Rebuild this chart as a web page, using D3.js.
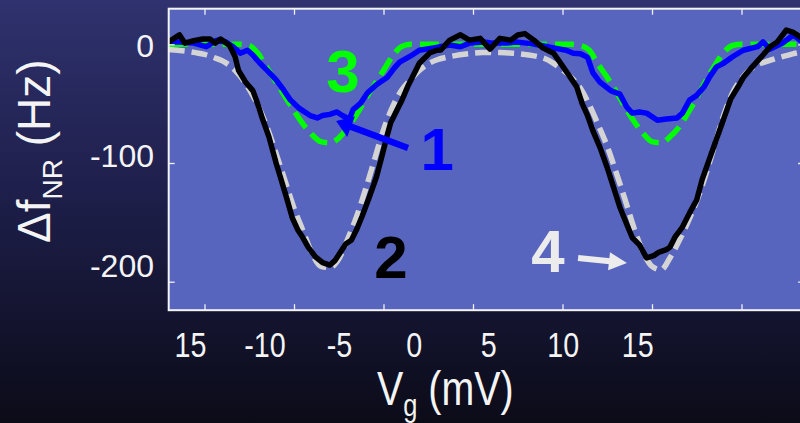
<!DOCTYPE html>
<html>
<head>
<meta charset="utf-8">
<script src="https://cdn.jsdelivr.net/npm/d3@7"></script>
<style>
  html, body { margin: 0; padding: 0; overflow: hidden; background: #15163a; }
  svg { display: block; }
</style>
</head>
<body>
<svg id="chart" width="800" height="423"></svg>
<script>
// ---- data -------------------------------------------------------------
// tick values and their printed labels
const vgTicks = [-15, -10, -5, 0, 5, 10, 15];
const vgTickLabels = ["15", "-10", "-5", "0", "5", "10", "15"];
const dfTicks = [0, -100, -200];
const dfTickLabels = ["0", "-100", "-200"];

// curve 1 (blue, measured): [Vg (mV), Δf (Hz)]
const curve1 = [
  [-17.0, 2], [-16.4, 2], [-15.6, 1], [-14.9, -2], [-14.3, 3.5], [-13.8, 2], [-13.4, -2],
  [-13.0, -7.5], [-12.6, -5], [-12.3, -9], [-11.9, -16], [-11.5, -22], [-11.0, -30],
  [-10.6, -38], [-10.2, -47], [-9.7, -54], [-9.1, -60], [-8.7, -62], [-8.4, -60],
  [-8.0, -59], [-7.6, -57], [-7.3, -60], [-6.9, -63], [-6.7, -55], [-6.3, -50],
  [-5.9, -41], [-5.4, -34], [-4.8, -28], [-4.4, -20], [-4.1, -15], [-3.5, -10],
  [-3.0, -5], [-2.2, -3], [-1.3, -0.6], [-0.7, -2], [-0.2, 1], [0.6, 2], [1.1, 1],
  [1.9, 1], [2.4, 2], [3.0, 1], [3.7, -0.6], [4.5, -3], [5.2, -5], [5.6, -7.5],
  [6.0, -8], [6.4, -11], [6.7, -24], [7.1, -32], [7.7, -39], [8.2, -42], [8.6, -53],
  [8.9, -58], [9.3, -57], [9.7, -58], [10.3, -64], [10.8, -63], [11.4, -62],
  [11.7, -58], [12.1, -47], [12.5, -43], [12.9, -36], [13.2, -28], [13.6, -19],
  [14.0, -16], [14.5, -10.5], [15.1, -5], [15.9, -2], [16.2, 2], [16.6, -4],
  [17.3, 1], [17.9, 8], [18.3, 3], [18.5, 3]
];

// curve 2 (black, measured): [Vg (mV), Δf (Hz)]
const curve2 = [
  [-17.0, 2], [-16.7, 5], [-16.4, 8], [-16.1, 1], [-15.6, 3], [-15.1, 4.5], [-14.7, 4.5],
  [-14.4, 1], [-14.1, 4.5], [-13.6, -1], [-13.3, -10], [-13.1, -22], [-12.7, -32],
  [-12.3, -39], [-12.1, -47], [-11.8, -61], [-11.4, -78], [-11.0, -100], [-10.7, -115],
  [-10.4, -130], [-10.1, -146], [-9.8, -156], [-9.5, -163], [-9.2, -171], [-8.8, -179],
  [-8.4, -184], [-8.0, -186], [-7.7, -182], [-7.4, -175], [-7.1, -168], [-6.8, -165],
  [-6.5, -156], [-6.2, -145], [-5.8, -129], [-5.4, -112], [-5.1, -95], [-4.8, -77],
  [-4.6, -66], [-4.3, -57], [-4.0, -48], [-3.6, -34], [-3.2, -22], [-3.0, -16],
  [-2.6, -10], [-2.4, -7], [-2.0, -5], [-1.8, -4.8], [-1.3, 3.5], [-0.7, 8],
  [-0.2, 3.5], [0.4, 5], [0.95, -4], [1.5, 5], [2.1, 3.5], [2.5, 7.8], [2.9, 9],
  [3.4, 3.5], [3.9, -3], [4.5, -7.5], [4.9, -16], [5.4, -27], [5.8, -36], [6.1, -50],
  [6.4, -60], [6.7, -73], [7.1, -87], [7.5, -104], [7.8, -118], [8.2, -137],
  [8.6, -152], [8.9, -163], [9.3, -169], [9.7, -180], [10.1, -178], [10.4, -175],
  [10.8, -173], [11.0, -171], [11.3, -162], [11.7, -154], [12.1, -142], [12.5, -131],
  [12.8, -114], [13.2, -97], [13.6, -80], [14.0, -63], [14.4, -46], [14.8, -36],
  [15.1, -28], [15.6, -19], [16.2, -9], [16.6, -2], [17.0, 2], [17.5, 12],
  [17.9, 10], [18.3, 6], [18.5, 4]
];

// fits 3 (green) and 4 (grey) share one Vg grid
const fitVg = [
  -17, -16.5, -16, -15.5, -15, -14.5, -14, -13.5, -13, -12.5, -12, -11.5, -11, -10.5,
  -10, -9.5, -9, -8.5, -8, -7.5, -7, -6.5, -6, -5.5, -5, -4.5, -4, -3.5, -3, -2.5,
  -2, -1.5, -1, -0.5, 0, 0.5, 1, 1.5, 2, 2.5, 3, 3.5, 4, 4.5, 5, 5.5, 6, 6.5, 7, 7.5,
  8, 8.5, 9, 9.5, 10, 10.5, 11, 11.5, 12, 12.5, 13, 13.5, 14, 14.5, 15, 15.5, 16,
  16.5, 17, 17.5, 18, 18.5
];
const fit3 = [
  0, 0, 0, 0, 0, 0, 0, 0, 0, -1, -8, -20, -32, -44,
  -56, -67, -76, -82, -83, -79, -70, -59, -46, -34, -22, -10, -2, 0, 0, 0,
  0, 0, 0, 0, 0, 0, 0, 0, 0, 0, 0, 0, 0, 0, 0, 0, -1, -5, -17, -28,
  -40, -53, -65, -75, -82, -83, -78, -70, -58, -45, -31, -18, -7, -1, 0, 0, 0,
  0, 0, 0, 0, 0
];
const fit4 = [
  -4.3, -5, -5.8, -7, -8.5, -11, -14, -19, -27, -38, -52, -70, -92, -115,
  -138, -157, -176, -187, -188, -181, -164, -145, -122, -97, -72, -53, -39, -30, -22, -16.5,
  -13, -11, -9.5, -8.3, -7.5, -7, -6.8, -7, -7.3, -7.8, -8.8, -10, -12, -16, -21.5, -28, -37, -51, -68, -86,
  -108, -131, -155, -175, -187, -190, -180, -166, -150, -132, -110, -85, -60, -41, -29, -21, -16.5,
  -14, -11.5, -9.5, -7.5, -6
];

// annotation numerals and arrows, placed in data units
const numerals = [
  { text: "3", vg: -7.26, df: -40.5, color: "#00ff00" },
  { text: "1", vg: -2.0, df: -106, color: "#0000ff" },
  { text: "2", vg: -4.58, df: -197, color: "#000000" },
  { text: "4", vg: 4.19, df: -192, color: "#ececec" }
];
const arrows = [
  { from: [-3.63, -87.4], to: [-7.65, -64.7], color: "#0000ff", shaft: 6.5, headLen: 16, headHalf: 11 },
  { from: [5.87, -180], to: [8.6, -184.3], color: "#ececec", shaft: 6, headLen: 18, headHalf: 9 }
];

// ---- layout ------------------------------------------------------------
const svg = d3.select("#chart");
const W = 800, H = 423;

const x = d3.scaleLinear().domain([-17, 18.5]).range([168.7, 804.15]);
const y = d3.scaleLinear().domain([30, -224]).range([8.7, 310.2]);

// tick-label placement scales (labels sit slightly off their tick marks)
const xLab = d3.scaleLinear().domain([-15, 15]).range([190.4, 637.8]);
const yLab = d3.scaleLinear().domain([0, -200]).range([56.7, 276.7]);

const FONT = "'Liberation Sans', Arial, Helvetica, sans-serif";

// ---- background --------------------------------------------------------
const defs = svg.append("defs");
const grad = defs.append("linearGradient").attr("id", "bgGrad")
  .attr("x1", 0).attr("y1", 0).attr("x2", 0).attr("y2", 1);
grad.append("stop").attr("offset", 0).attr("stop-color", "#2f326e");
grad.append("stop").attr("offset", 0.45).attr("stop-color", "#1e1f4b");
grad.append("stop").attr("offset", 1).attr("stop-color", "#0b0b18");
svg.append("rect").attr("width", W).attr("height", H).attr("fill", "url(#bgGrad)");

const [x0, x1] = x.range();
const [y0, y1] = y.range();

defs.append("clipPath").attr("id", "plotClip")
  .append("rect").attr("x", x0).attr("y", y0).attr("width", x1 - x0).attr("height", y1 - y0);

svg.append("rect").attr("x", x0).attr("y", y0).attr("width", x1 - x0).attr("height", y1 - y0)
  .attr("fill", "#5865bf");

// ---- curves ------------------------------------------------------------
const plot = svg.append("g").attr("clip-path", "url(#plotClip)");

const smooth = d3.line().x(d => x(d[0])).y(d => y(d[1])).curve(d3.curveMonotoneX);
const jagged = d3.line().x(d => x(d[0])).y(d => y(d[1])).curve(d3.curveLinear);

plot.append("path").datum(fitVg.map((v, i) => [v, fit4[i]]))
  .attr("d", smooth).attr("fill", "none").attr("stroke", "#d4d4d4")
  .attr("stroke-width", 5.5).attr("stroke-dasharray", "16 7");

plot.append("path").datum(fitVg.map((v, i) => [v, fit3[i]]))
  .attr("d", smooth).attr("fill", "none").attr("stroke", "#00ff00")
  .attr("stroke-width", 5.5).attr("stroke-dasharray", "19 8");

plot.append("path").datum(curve1)
  .attr("d", jagged).attr("fill", "none").attr("stroke", "#0000ff")
  .attr("stroke-width", 5.5).attr("stroke-linejoin", "round").attr("stroke-linecap", "round");

plot.append("path").datum(curve2)
  .attr("d", jagged).attr("fill", "none").attr("stroke", "#000000")
  .attr("stroke-width", 5.5).attr("stroke-linejoin", "round").attr("stroke-linecap", "round");

// ---- frame and inward ticks -------------------------------------------
function styleAxis(g) {
  g.select(".domain").remove();
  g.selectAll(".tick line").attr("stroke", "#f2f2f2").attr("stroke-width", 1.3);
  g.selectAll(".tick text").remove();
}
svg.append("g").attr("transform", `translate(0,${y0})`)
  .call(d3.axisTop(x).tickValues(vgTicks).tickSize(-6).tickFormat("")).call(styleAxis);
svg.append("g").attr("transform", `translate(0,${y1})`)
  .call(d3.axisBottom(x).tickValues(vgTicks).tickSize(-6).tickFormat("")).call(styleAxis);
svg.append("g").attr("transform", `translate(${x0},0)`)
  .call(d3.axisLeft(y).tickValues(dfTicks).tickSize(-6).tickFormat("")).call(styleAxis);
svg.append("g").attr("transform", `translate(${x1},0)`)
  .call(d3.axisRight(y).tickValues(dfTicks).tickSize(-6).tickFormat("")).call(styleAxis);

svg.append("rect").attr("x", x0).attr("y", y0).attr("width", x1 - x0).attr("height", y1 - y0)
  .attr("fill", "none").attr("stroke", "#f4f4f4").attr("stroke-width", 2);

// ---- tick labels -------------------------------------------------------
svg.append("g").selectAll("g").data(vgTicks).join("g")
  .attr("transform", d => `translate(${xLab(d)},357) scale(0.82,1)`)
  .append("text")
  .attr("text-anchor", "middle").attr("fill", "#f4f4f4")
  .style("font-family", FONT).style("font-size", "35px")
  .text((d, i) => vgTickLabels[i]);

svg.append("g").selectAll("text").data(dfTicks).join("text")
  .attr("x", 154).attr("y", d => yLab(d))
  .attr("text-anchor", "end").attr("fill", "#f4f4f4")
  .style("font-family", FONT).style("font-size", "32px")
  .text((d, i) => dfTickLabels[i]);

// ---- axis titles -------------------------------------------------------
const xTitle = svg.append("g").attr("transform", "translate(377,405) scale(0.82,1)")
  .append("text").attr("fill", "#f4f4f4").style("font-family", FONT);
xTitle.append("tspan").style("font-size", "48px").text("V");
xTitle.append("tspan").style("font-size", "31px").attr("dy", 11).text("g");
xTitle.append("tspan").style("font-size", "48px").attr("dy", -11).text("\u00a0(mV)");

const yTitle = svg.append("text").attr("transform", "translate(50,243) rotate(-90)")
  .attr("fill", "#f4f4f4").style("font-family", FONT);
yTitle.append("tspan").style("font-size", "46px").text("\u0394f");
yTitle.append("tspan").style("font-size", "28px").attr("dy", 12).text("NR");
yTitle.append("tspan").style("font-size", "46px").attr("dy", -12).text("\u00a0(Hz)");

// ---- annotations -------------------------------------------------------
arrows.forEach(a => {
  const tx = x(a.from[0]), ty = y(a.from[1]);
  const hx = x(a.to[0]), hy = y(a.to[1]);
  const len = Math.hypot(hx - tx, hy - ty);
  const ux = (hx - tx) / len, uy = (hy - ty) / len;
  const bx = hx - ux * a.headLen, by = hy - uy * a.headLen;
  svg.append("line").attr("x1", tx).attr("y1", ty).attr("x2", bx + ux).attr("y2", by + uy)
    .attr("stroke", a.color).attr("stroke-width", a.shaft);
  svg.append("polygon")
    .attr("points", [
      [hx, hy],
      [bx - uy * a.headHalf, by + ux * a.headHalf],
      [bx + uy * a.headHalf, by - ux * a.headHalf]
    ].map(p => p.join(",")).join(" "))
    .attr("fill", a.color);
});

svg.append("g").selectAll("text").data(numerals).join("text")
  .attr("x", d => x(d.vg)).attr("y", d => y(d.df))
  .attr("text-anchor", "middle").attr("fill", d => d.color)
  .style("font-family", FONT).style("font-size", "60px").style("font-weight", "bold")
  .text(d => d.text);
</script>
</body>
</html>
